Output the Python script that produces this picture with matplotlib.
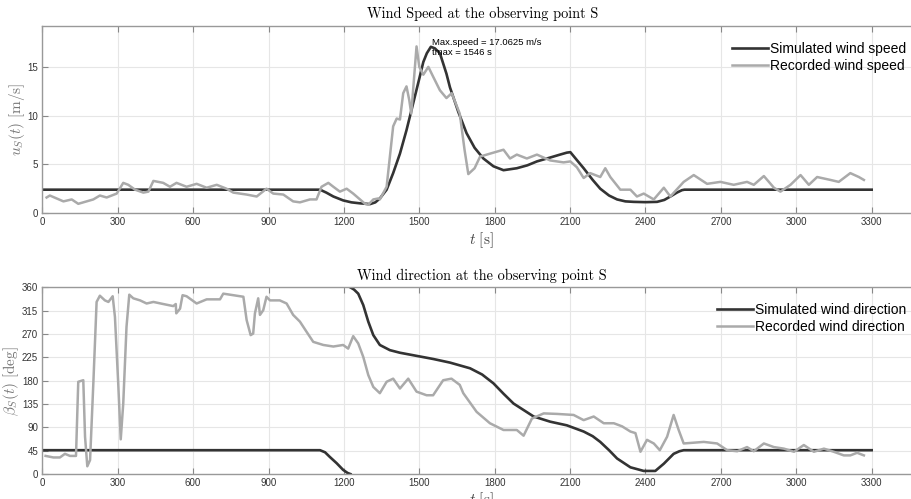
import numpy as np
import matplotlib.pyplot as plt

plt.rcParams['mathtext.fontset'] = 'cm'

# ---- wind speed (top panel) ----
t_sim_speed = [0, 1105, 1130, 1158, 1197, 1230, 1264, 1304, 1325, 1343, 1370, 1396, 1423, 1449, 1476,
               1500, 1516, 1530, 1546, 1562, 1582, 1608, 1622, 1655, 1688, 1720, 1755, 1795, 1835, 1888,
               1930, 1968, 2021, 2060, 2087, 2101, 2125, 2154, 2190, 2220, 2255, 2287, 2320, 2353,
               2400, 2446, 2475, 2499, 2525, 2545, 2555, 3300]
sim_speed = [2.4, 2.4, 2.1, 1.7, 1.3, 1.1, 1.0, 0.92, 1.1, 1.5, 2.4, 4.1, 6.1, 8.5, 11.3,
             13.8, 15.5, 16.4, 17.06, 16.9, 16.4, 14.3, 12.9, 10.4, 8.2, 6.7, 5.6, 4.8, 4.4, 4.6,
             4.9, 5.3, 5.7, 6.0, 6.2, 6.25, 5.5, 4.6, 3.4, 2.5, 1.8, 1.4, 1.2, 1.15,
             1.12, 1.15, 1.35, 1.7, 2.1, 2.35, 2.4, 2.4]

t_rec_speed = [17, 30, 84, 117, 143, 203, 229, 256, 296, 322, 342, 369, 402, 422, 442, 481, 508, 534,
               574, 614, 654, 694, 733, 760, 813, 853, 892, 919, 959, 998, 1025, 1065, 1091, 1111,
               1138, 1158, 1184, 1211, 1237, 1264, 1284, 1297, 1317, 1337, 1343, 1370, 1396, 1410,
               1423, 1436, 1449, 1460, 1468, 1489, 1500, 1516, 1536, 1555, 1582, 1608, 1629, 1661,
               1680, 1695, 1720, 1742, 1795, 1835, 1861, 1888, 1928, 1968, 2021, 2074, 2101, 2127,
               2154, 2180, 2220, 2240, 2260, 2300, 2340, 2366, 2393, 2433, 2473, 2499, 2552, 2592,
               2645, 2698, 2751, 2804, 2831, 2871, 2911, 2937, 2977, 3017, 3050, 3083, 3136, 3169,
               3215, 3249, 3269]
rec_speed = [1.6, 1.8, 1.2, 1.4, 0.95, 1.4, 1.8, 1.6, 2.0, 3.1, 2.9, 2.4, 2.1, 2.2, 3.3, 3.1, 2.7, 3.1,
             2.7, 3.0, 2.6, 2.9, 2.5, 2.1, 1.9, 1.7, 2.5, 2.0, 1.9, 1.2, 1.1, 1.4, 1.4, 2.7,
             3.1, 2.7, 2.2, 2.5, 2.0, 1.4, 0.95, 0.85, 1.4, 1.5, 1.4, 2.7, 8.9, 9.7,
             9.6, 12.3, 13.0, 11.6, 10.2, 17.1, 15.0, 14.2, 15.0, 14.0, 12.6, 11.8, 12.3, 10.2,
             6.5, 4.0, 4.6, 5.8, 6.2, 6.5, 5.6, 6.0, 5.6, 6.0, 5.4, 5.2, 5.3, 4.7,
             3.6, 4.1, 3.7, 4.6, 3.7, 2.4, 2.4, 1.7, 2.0, 1.4, 2.6, 1.7, 3.2, 3.9,
             3.0, 3.2, 2.9, 3.2, 2.9, 3.8, 2.6, 2.2, 2.9, 3.9, 2.9, 3.7, 3.4, 3.2,
             4.1, 3.7, 3.4]

# ---- wind direction (bottom panel) ----
t_sim_dir_a = [0, 1105, 1125, 1144, 1171, 1197, 1215, 1226]
sim_dir_a = [46, 46, 42, 33, 21, 8, 2, 0]
t_sim_dir_b = [1226, 1240, 1257, 1277, 1297, 1317, 1343, 1383, 1423, 1489, 1555, 1622, 1702, 1750,
               1795, 1835, 1875, 1955, 2021, 2087, 2154, 2190, 2220, 2255, 2287, 2340, 2393, 2439,
               2473, 2512, 2535, 2552, 3300]
sim_dir_b = [360, 356, 348, 326, 294, 268, 249, 239, 234, 228, 222, 215, 204, 192,
             175, 155, 136, 111, 101, 94, 82, 73, 62, 46, 30, 13, 6, 6,
             20, 39, 44, 46, 46]

t_rec_dir = [13, 44, 70, 90, 110, 134, 143, 163, 170, 179, 190, 203, 216, 229, 249, 263, 280, 289,
             302, 312, 322, 335, 346, 362, 389, 415, 442, 481, 521, 531, 533, 548, 558, 574, 614,
             654, 707, 720, 760, 800, 813, 829, 839, 846, 859, 866, 879, 892, 906, 945, 972, 998,
             1025, 1052, 1078, 1118, 1158, 1197, 1217, 1237, 1257, 1277, 1297, 1317, 1343, 1370,
             1396, 1423, 1456, 1489, 1529, 1555, 1595, 1628, 1661, 1675, 1728, 1781, 1835, 1888,
             1915, 1948, 1995, 2048, 2114, 2154, 2194, 2234, 2274, 2307, 2340, 2360, 2380, 2406,
             2433, 2457, 2486, 2512, 2532, 2552, 2579, 2632, 2685, 2725, 2765, 2804, 2831, 2871,
             2911, 2951, 2991, 3030, 3070, 3110, 3149, 3189, 3215, 3242, 3269]
rec_dir = [35, 32, 32, 39, 35, 35, 178, 181, 72, 15, 27, 175, 332, 344, 335, 332, 343, 303,
           175, 67, 136, 284, 346, 339, 335, 329, 332, 328, 324, 328, 310, 319, 345, 343, 329,
           337, 337, 348, 345, 342, 297, 268, 271, 310, 339, 307, 316, 342, 335, 335, 329, 307,
           294, 274, 255, 249, 246, 249, 242, 266, 252, 226, 191, 168, 156, 178,
           184, 165, 184, 159, 152, 152, 181, 184, 172, 156, 120, 98, 85, 85,
           74, 107, 117, 116, 114, 104, 111, 98, 98, 92, 82, 79, 43, 66,
           59, 46, 72, 114, 85, 59, 60, 62, 59, 46, 44, 52, 44, 59,
           52, 49, 43, 56, 43, 49, 43, 36, 36, 41, 36]

xticks = np.arange(0, 3301, 300)
sim_col = '#333333'
rec_col = '#aaaaaa'

fig = plt.figure(figsize=(9.12, 4.99), dpi=100)
ax1 = fig.add_axes([0.0464, 0.573, 0.9645, 0.375])
ax2 = fig.add_axes([0.0464, 0.050, 0.9645, 0.374])


def style_axes(ax, ylab_x):
    ax.set_xlim(0, 3500)
    ax.set_xticks(xticks)
    ax.grid(True, color='#e6e6e6', linewidth=0.8)
    ax.tick_params(direction='in', length=4, width=0.8, color='#888888', labelsize=7,
                   labelcolor='#333333', top=True, pad=3)
    for lab in ax.get_xticklabels() + ax.get_yticklabels():
        lab.set_family('Liberation Sans')
    for s in ax.spines.values():
        s.set_color('#999999')
        s.set_linewidth(1.0)
    ax.spines['right'].set_visible(False)
    ax.set_xlabel(r'$t\ [\mathrm{s}]$', fontsize=11, color='#444444')
    ax.xaxis.set_label_coords(0.4995, -0.09)
    ax.yaxis.set_label_coords(ylab_x, 0.5)


legend_kw = dict(loc='upper left', frameon=False, handlelength=2.55, handletextpad=0.15,
                 labelspacing=0.22, borderaxespad=0,
                 prop={'family': 'Liberation Sans', 'size': 10})

# top panel
ax1.plot(t_sim_speed, sim_speed, color=sim_col, lw=1.9, label='Simulated wind speed')
ax1.plot(t_rec_speed, rec_speed, color=rec_col, lw=1.8, label='Recorded wind speed')
ax1.set_ylim(0, 19.2)
ax1.set_yticks([0, 5, 10, 15])
style_axes(ax1, -0.017)
ax1.set_title('Wind Speed at the observing point S', family='cmr10', fontsize=10.3, pad=5.5)
ax1.set_ylabel(r'$u_S(t)\ [\mathrm{m/s}]$', fontsize=11, color='#777777')
ax1.text(1552, 17.0, 'Max.speed = 17.0625 m/s\ntmax = 1546 s', fontsize=6.8,
         family='Liberation Sans', va='center', ha='left', linespacing=1.25)
ax1.legend(bbox_to_anchor=(0.778, 0.945), **legend_kw)

# bottom panel
ax2.plot(t_sim_dir_a, sim_dir_a, color=sim_col, lw=1.9, label='Simulated wind direction')
ax2.plot(t_sim_dir_b, sim_dir_b, color=sim_col, lw=1.9)
ax2.plot(t_rec_dir, rec_dir, color=rec_col, lw=1.8, label='Recorded wind direction')
ax2.set_ylim(0, 360)
ax2.set_yticks(np.arange(0, 361, 45))
style_axes(ax2, -0.024)
ax2.set_title('Wind direction at the observing point S', family='cmr10', fontsize=10.3, pad=5.5)
ax2.set_ylabel(r'$\beta_S(t)\ [\mathrm{deg}]$', fontsize=11, color='#777777')
ax2.legend(bbox_to_anchor=(0.761, 0.948), **legend_kw)

fig.savefig('out.png', dpi=100)
